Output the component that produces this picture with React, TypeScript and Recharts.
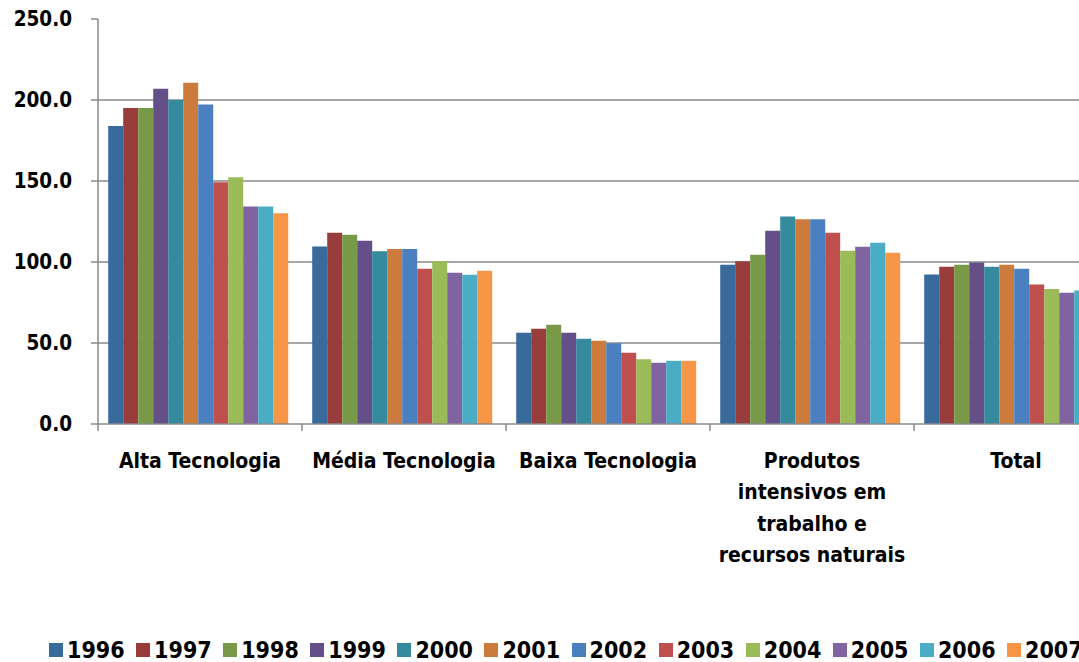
import { Bar, BarChart, CartesianGrid, Legend, XAxis, YAxis } from "recharts";

const categories = [
  "Alta Tecnologia",
  "Média Tecnologia",
  "Baixa Tecnologia",
  "Produtos\nintensivos em\ntrabalho e\nrecursos naturais",
  "Total",
];

const years = ["1996", "1997", "1998", "1999", "2000", "2001", "2002", "2003", "2004", "2005", "2006", "2007"];

// one value per category, in the order above
const v1996 = [184.0, 109.6, 56.3, 98.3, 92.3];
const v1997 = [195.0, 118.0, 58.8, 100.5, 97.0];
const v1998 = [195.0, 116.8, 61.2, 104.4, 98.3];
const v1999 = [207.0, 113.1, 56.3, 119.3, 99.7];
const v2000 = [200.0, 106.7, 52.6, 128.1, 97.0];
const v2001 = [210.6, 108.1, 51.4, 126.4, 98.3];
const v2002 = [197.2, 108.1, 49.9, 126.4, 95.8];
const v2003 = [149.3, 95.8, 44.0, 118.0, 86.1];
const v2004 = [152.3, 100.5, 40.0, 106.9, 83.4];
const v2005 = [134.3, 93.3, 37.8, 109.4, 81.0];
const v2006 = [134.3, 92.1, 39.0, 111.9, 82.4];
const v2007 = [130.1, 94.6, 39.0, 105.7, 83.0];

const seriesValues = [v1996, v1997, v1998, v1999, v2000, v2001, v2002, v2003, v2004, v2005, v2006, v2007];

const colors = [
  "#386a9c", "#983d3b", "#789a48", "#644f88", "#358a9d", "#cc7b3c",
  "#4a7fc0", "#c0504d", "#9bbb59", "#8064a2", "#4bacc6", "#f79646",
];

const yTicks = [0, 50, 100, 150, 200, 250];
const gridValues = [50, 100, 150, 200];

const data = categories.map((name, i) => {
  const row: Record<string, string | number> = { name };
  years.forEach((year, k) => {
    row[year] = seriesValues[k][i];
  });
  return row;
});

const FONT = "'DejaVu Sans Condensed', 'DejaVu Sans', sans-serif";
const AXIS_GRAY = "#8a8a8a";

// label lines under each group, plus tick marks on the group boundaries
function CategoryTick({ x, y, payload, width, visibleTicksCount, index }: any) {
  const lines = String(payload.value).split("\n");
  const half = payload.offset || width / visibleTicksCount / 2;
  const marks = [x - half];
  if (index === visibleTicksCount - 1) marks.push(x + half);
  return (
    <g>
      {marks.map((mx) => (
        <line key={mx} x1={mx} x2={mx} y1={y} y2={y + 7} stroke={AXIS_GRAY} strokeWidth={1.5} />
      ))}
      {lines.map((line, i) => (
        <text
          key={i}
          x={x}
          y={y + 43.5 + i * 31.5}
          textAnchor="middle"
          fill="#000"
          fontFamily={FONT}
          fontWeight="bold"
          fontSize={21}
        >
          {line}
        </text>
      ))}
    </g>
  );
}

function YearLegend() {
  return (
    <div
      style={{
        display: "flex",
        alignItems: "center",
        height: 24,
        paddingLeft: 49,
        whiteSpace: "nowrap",
        fontFamily: FONT,
        fontWeight: "bold",
        fontSize: 23,
        color: "#000",
      }}
    >
      {years.map((year, i) => (
        <div key={year} style={{ display: "flex", alignItems: "center", marginRight: 11.5 }}>
          <span style={{ width: 14, height: 14, background: colors[i], marginRight: 4 }} />
          <span>{year}</span>
        </div>
      ))}
    </div>
  );
}

export default function App() {
  return (
    <div
      style={{
        position: "absolute",
        left: 0,
        top: 0,
        width: 1079,
        height: 662,
        overflow: "hidden",
        background: "#fff",
      }}
    >
      <BarChart
        width={1133}
        height={662}
        data={data}
        margin={{ top: 19, right: 15, bottom: 0, left: 0 }}
        barCategoryGap="5%"
        barGap={0}
      >
        <CartesianGrid
          vertical={false}
          horizontalValues={gridValues}
          stroke={AXIS_GRAY}
          strokeWidth={1.5}
        />
        <XAxis
          dataKey="name"
          height={214}
          stroke={AXIS_GRAY}
          strokeWidth={1.5}
          tickLine={false}
          tickSize={0}
          tickMargin={0}
          interval={0}
          tick={<CategoryTick />}
        />
        <YAxis
          domain={[0, 250]}
          ticks={yTicks}
          width={98}
          tickSize={7}
          tickMargin={19}
          stroke={AXIS_GRAY}
          strokeWidth={1.5}
          tickFormatter={(value: number) => value.toFixed(1)}
          tick={{ fill: "#000", fontFamily: FONT, fontWeight: "bold", fontSize: 20.5 }}
        />
        <Legend verticalAlign="bottom" content={<YearLegend />} />
        {years.map((year, i) => (
          <Bar key={year} dataKey={year} fill={colors[i]} isAnimationActive={false} />
        ))}
      </BarChart>
    </div>
  );
}
